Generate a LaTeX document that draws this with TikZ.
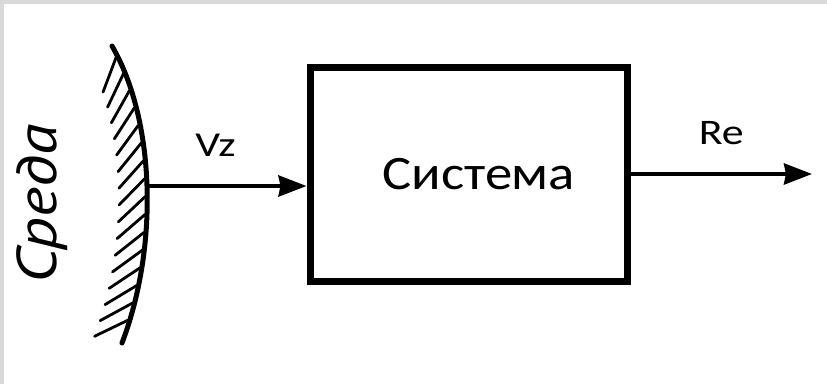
\documentclass[tikz,border=0pt]{standalone}
\usepackage{fontspec}
\setmainfont{Carlito}
\newfontfamily\handfont{PT Sans}
\usetikzlibrary{positioning, arrows.meta, decorations.markings}

\begin{document}
\begin{tikzpicture}[x=1pt, y=1pt, >={Stealth[length=28pt,width=21pt,inset=2pt]},
      sys/.style={draw, line width=7pt, minimum width=317pt, minimum height=214pt, inner sep=0pt, font=\fontsize{48}{56}\selectfont},
      flow/.style={->, line width=4pt},
      lbl/.style={anchor=base, font=\fontsize{35}{42}\selectfont},
      hatch/.style={postaction={decorate}, decoration={markings,
        mark=between positions 0.04 and 0.98 step 18pt with {\draw[line width=2.8pt] (0pt,-2pt) -- (25pt,-29pt);}}}]

      \fill[black!15] (0,0) rectangle (4,384);
      \fill[black!15] (0,380) rectangle (827,384);
      \useasboundingbox (0,0) rectangle (827,384);

      \coordinate (T) at (112,338);
      \coordinate (E) at (147,198);
      \coordinate (B) at (122,41);
      \coordinate (O) at (812,0);

      \node[sys] (S) at (468.5,210) {\scalebox{1.14}[1]{\hspace*{18pt}Система}};
      \node[rotate=90, anchor=base, font=\handfont\itshape\fontsize{56}{64}\selectfont] (M) at (56,180) {\scalebox{1.15}[1]{Среда}};

      \draw[line width=5pt, line cap=round, hatch] (T) .. controls (155,264) and (159,138) .. (B);

      \draw[flow] (E) -- node[lbl, pos=0.43, yshift=30pt] {\scalebox{1.25}[1]{Vz}} (E -| S.west);
      \draw[flow] (S.east) -- node[lbl, yshift=30pt, font=\fontsize{36}{43}\selectfont] {\scalebox{1.22}[1]{Re}} (S.east -| O);
\end{tikzpicture}
\end{document}
